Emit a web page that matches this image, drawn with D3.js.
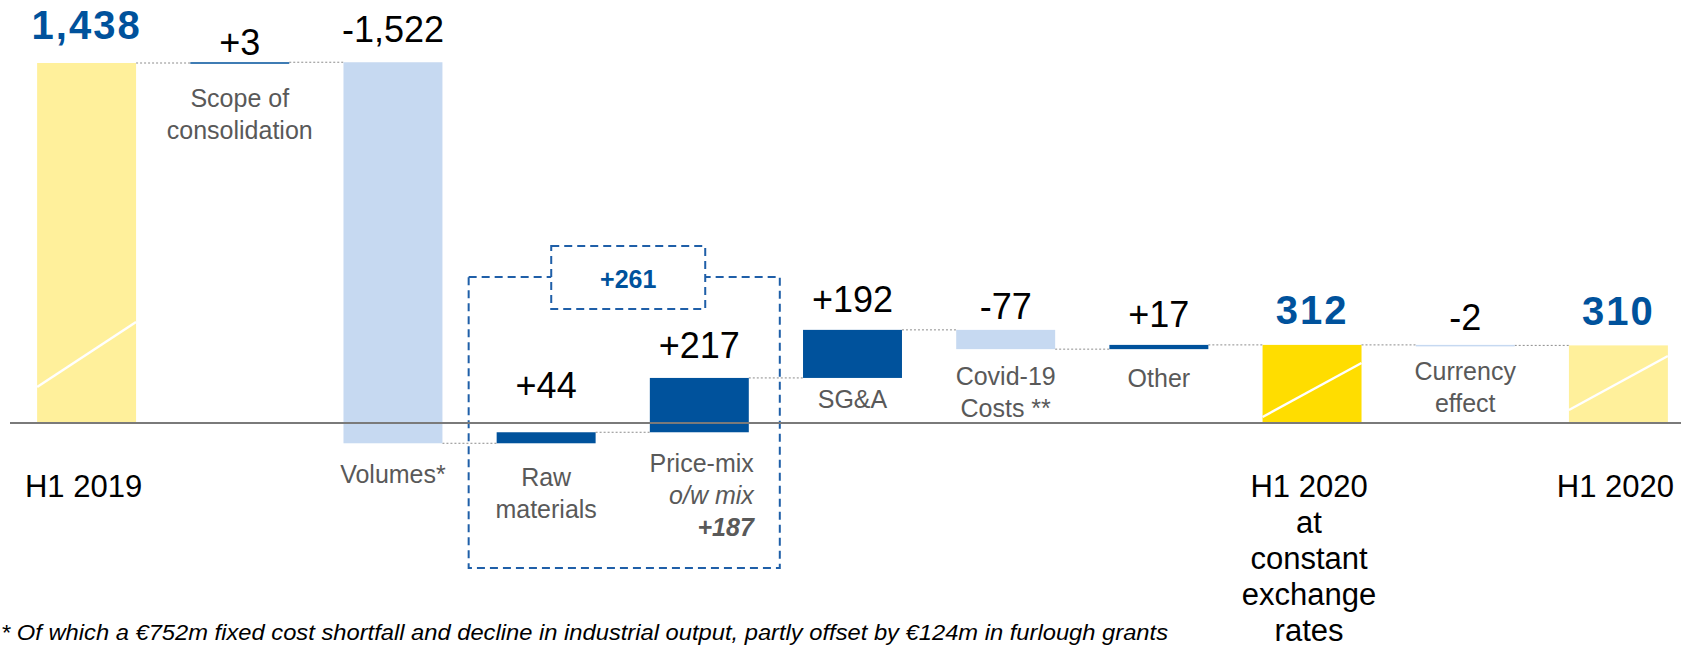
<!DOCTYPE html>
<html>
<head>
<meta charset="utf-8">
<script src="https://cdn.jsdelivr.net/npm/d3@7"></script>
<style>
  html, body { margin: 0; padding: 0; background: #ffffff; overflow: hidden; }
  svg { display: block; }
</style>
</head>
<body>
<svg id="chart" width="1681" height="647"></svg>
<script>
// ---------------- DATA ----------------
const categories = ["H1 2019", "Scope of consolidation", "Volumes*", "Raw materials", "Price-mix",
  "SG&A", "Covid-19 Costs **", "Other", "H1 2020 at constant exchange rates", "Currency effect", "H1 2020"];
const values = [1438, 3, -1522, 44, 217, 192, -77, 17, 312, -2, 310];
const kinds = ["total", "delta", "delta", "delta", "delta", "delta", "delta", "delta", "subtotal", "delta", "total"];
const valueLabels = ["1,438", "+3", "-1,522", "+44", "+217", "+192", "-77", "+17", "312", "-2", "310"];
const categoryLines = [
  ["H1 2019"],
  ["Scope of", "consolidation"],
  ["Volumes*"],
  ["Raw", "materials"],
  ["Price-mix", "o/w mix", "+187"],
  ["SG&A"],
  ["Covid-19", "Costs **"],
  ["Other"],
  ["H1 2020", "at", "constant", "exchange", "rates"],
  ["Currency", "effect"],
  ["H1 2020"]
];
const groupMembers = ["Raw materials", "Price-mix"];
const groupLabel = "+261";
const footnote = "* Of which a \u20AC752m fixed cost shortfall and decline in industrial output, partly offset by \u20AC124m in furlough grants";

// ---------------- LAYOUT / STYLE ----------------
const valueGap = [24, 7, 20, 34, 20, 18, 11, 18, 21, 15, 20];
const catGap = [0, 43.5, 40, 43, 40, 30, 36, 38, 0, 34.5, 0];
const diagOffsets = { 0: [36, 101], 8: [6, 60], 10: [13, 67] };
const colors = { total: "#FFF09B", subtotal: "#FFDD00", pos: "#00529C", neg: "#C6D9F1" };
const FONT = "'Liberation Sans', Arial, Helvetica, sans-serif";

const svg = d3.select("#chart");

const x = d3.scaleBand().domain(categories).range([10, 1695]).paddingInner(0.354).paddingOuter(0.177);
const y = d3.scaleLinear().domain([0, 1438]).range([423, 63]);
const bw = x.bandwidth();

// running totals
let run = 0;
const bars = categories.map((c, i) => {
  let start, end;
  if (kinds[i] === "delta") { start = run; end = run + values[i]; }
  else { start = 0; end = values[i]; }
  run = end;
  return { c, i, start, end, v: values[i], kind: kinds[i] };
});

function barColor(d) {
  if (d.kind === "total") return colors.total;
  if (d.kind === "subtotal") return colors.subtotal;
  return d.v >= 0 ? colors.pos : colors.neg;
}

// dashed group box (behind)
const gx0 = x(groupMembers[0]) - 28;
const gx1 = x(groupMembers[1]) + bw + 31;
const gTop = 277, gBottom = 568;
svg.append("rect")
  .attr("x", gx0).attr("y", gTop).attr("width", gx1 - gx0).attr("height", gBottom - gTop)
  .attr("fill", "none").attr("stroke", "#1F5FA8").attr("stroke-width", 2)
  .attr("stroke-dasharray", "8,5");

// connectors
const conn = svg.append("g");
for (let i = 0; i < bars.length - 1; i++) {
  const lvl = bars[i].end;
  conn.append("line")
    .attr("x1", x(bars[i].c) + bw).attr("x2", x(bars[i + 1].c))
    .attr("y1", y(lvl)).attr("y2", y(lvl))
    .attr("stroke", "#8c8c8c").attr("stroke-width", 1).attr("stroke-dasharray", "2,2");
}

// bars
svg.append("g").selectAll("rect").data(bars).join("rect")
  .attr("x", d => x(d.c))
  .attr("y", d => y(Math.max(d.start, d.end)))
  .attr("width", bw)
  .attr("height", d => Math.max(1.5, Math.abs(y(d.start) - y(d.end))))
  .attr("fill", barColor);

// diagonal white lines on total bars
bars.filter(d => diagOffsets[d.i]).forEach(d => {
  const b = y(0);
  const [o1, o2] = diagOffsets[d.i];
  svg.append("line")
    .attr("x1", x(d.c)).attr("x2", x(d.c) + bw)
    .attr("y1", b - o1).attr("y2", b - o2)
    .attr("stroke", "#ffffff").attr("stroke-width", 2.5);
});

// zero axis line
svg.append("line")
  .attr("x1", 10).attr("x2", 1681).attr("y1", y(0)).attr("y2", y(0))
  .attr("stroke", "#7a7a7a").attr("stroke-width", 2);

// value labels
svg.append("g").selectAll("text").data(bars).join("text")
  .attr("x", d => x(d.c) + bw / 2)
  .attr("y", d => y(Math.max(d.start, d.end)) - valueGap[d.i])
  .attr("text-anchor", "middle")
  .attr("font-family", FONT)
  .attr("font-size", d => d.kind === "delta" ? 36 : 40)
  .attr("font-weight", d => d.kind === "delta" ? "normal" : "bold")
  .attr("letter-spacing", d => d.kind === "delta" ? 0 : 2)
  .attr("fill", d => d.kind === "delta" ? "#000000" : "#00529C")
  .text(d => valueLabels[d.i]);

// category labels
bars.forEach(d => {
  const cx = x(d.c) + bw / 2;
  const lines = categoryLines[d.i];
  if (d.kind !== "delta") {
    const base = y(0) + 74;
    lines.forEach((t, k) => {
      svg.append("text").attr("x", cx - 3).attr("y", base + k * 36)
        .attr("text-anchor", "middle").attr("font-family", FONT)
        .attr("font-size", 31).attr("fill", "#000000").text(t);
    });
  } else {
    const base = y(Math.min(d.start, d.end)) + catGap[d.i];
    const isPrice = d.c === "Price-mix";
    lines.forEach((t, k) => {
      const tx = svg.append("text")
        .attr("y", base + k * 32)
        .attr("font-family", FONT).attr("font-size", 25).attr("fill", "#595959").text(t);
      if (isPrice) {
        tx.attr("x", x(d.c) + bw + 5).attr("text-anchor", "end");
        if (k >= 1) tx.attr("font-style", "italic");
        if (k === 2) tx.attr("font-weight", "bold");
      } else {
        tx.attr("x", cx).attr("text-anchor", "middle");
      }
    });
  }
});

// group label box
const gcx = (gx0 + gx1) / 2 + 4;
svg.append("rect")
  .attr("x", gcx - 77).attr("y", 246).attr("width", 154).attr("height", 63)
  .attr("fill", "#ffffff").attr("stroke", "#1F5FA8").attr("stroke-width", 2)
  .attr("stroke-dasharray", "8,5");
svg.append("text").attr("x", gcx).attr("y", 288).attr("text-anchor", "middle")
  .attr("font-family", FONT).attr("font-size", 25).attr("font-weight", "bold")
  .attr("fill", "#00529C").text(groupLabel);

// footnote
svg.append("text").attr("x", 1).attr("y", 640)
  .attr("font-family", FONT).attr("font-size", 22).attr("font-style", "italic")
  .attr("fill", "#000000")
  .attr("textLength", 1167).attr("lengthAdjust", "spacingAndGlyphs")
  .text(footnote);
</script>
</body>
</html>
